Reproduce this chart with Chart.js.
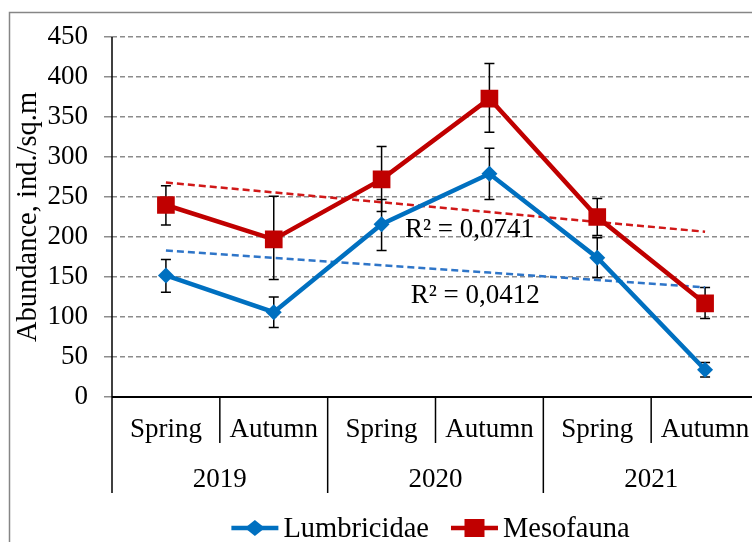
<!DOCTYPE html>
<html>
<head>
<meta charset="utf-8">
<script src="https://cdn.jsdelivr.net/npm/chart.js@4/dist/chart.umd.min.js"></script>
<style>
  html, body { margin: 0; padding: 0; background: #fff; overflow: hidden; }
</style>
</head>
<body>
<canvas id="chartAbundance" width="780" height="542"></canvas>
<script>
// values
const seasons = ["Spring", "Autumn", "Spring", "Autumn", "Spring", "Autumn"];
const years = ["2019", "2020", "2021"];

const lumbricidae     = [152, 106, 216, 279, 174, 34];
const lumbricidaeLow  = [131,  87, 183, 247, 149, 25];
const lumbricidaeHigh = [172, 125, 247, 311, 199, 43];

const mesofauna     = [240, 197, 272, 373, 225, 117];
const mesofaunaLow  = [215, 147, 232, 331, 202,  98];
const mesofaunaHigh = [264, 251, 313, 417, 248, 137];

const r2Lumbricidae = "R² = 0,0412";
const r2Mesofauna = "R² = 0,0741";

const yMin = 0, yMax = 450, yStep = 50;

const BLUE = "#0070C0";
const RED = "#C00000";
const FONT = "Liberation Serif";

/*
    Least squares trend line (the one the spreadsheet drew) for a series
*/
function trendLine(values) {
    const n = values.length;
    let sx = 0, sy = 0, sxy = 0, sxx = 0;
    values.forEach((v, i) => { sx += i; sy += v; sxy += i * v; sxx += i * i; });
    const slope = (n * sxy - sx * sy) / (n * sxx - sx * sx);
    const icpt = (sy - slope * sx) / n;
    return values.map((v, i) => icpt + slope * i);
}

/*
    Diamond / square marker, used for the legend
*/
function drawMarker(ctx, style, color, x, y) {
    ctx.fillStyle = color;
    if (style == "rectRot") {
        ctx.beginPath();
        ctx.moveTo(x - 10, y);
        ctx.lineTo(x, y - 8);
        ctx.lineTo(x + 10, y);
        ctx.lineTo(x, y + 8);
        ctx.closePath();
        ctx.fill();
    } else {
        ctx.fillRect(x - 10, y - 9, 20, 18);
    }
}

const extras = {
    id: "extras",
    beforeDraw(chart) {
        // outer frame
        const ctx = chart.ctx;
        ctx.save();
        ctx.strokeStyle = "#868686";
        ctx.lineWidth = 1.5;
        ctx.strokeRect(9.5, 12.5, chart.width + 40, chart.height + 40);
        ctx.restore();
    },
    beforeDatasetsDraw(chart) {
        // error bars, under the markers
        const ctx = chart.ctx;
        const xs = chart.scales.x, ys = chart.scales.y;
        ctx.save();
        ctx.strokeStyle = "#000";
        ctx.lineWidth = 1.5;
        chart.data.datasets.forEach(ds => {
            if (!ds.errLow) return;
            ds.data.forEach((v, i) => {
                const x = xs.getPixelForValue(i);
                const y1 = ys.getPixelForValue(ds.errLow[i]);
                const y2 = ys.getPixelForValue(ds.errHigh[i]);
                ctx.beginPath();
                ctx.moveTo(x, y1); ctx.lineTo(x, y2);
                ctx.moveTo(x - 5, y1); ctx.lineTo(x + 5, y1);
                ctx.moveTo(x - 5, y2); ctx.lineTo(x + 5, y2);
                ctx.stroke();
            });
        });
        ctx.restore();
    },
    afterDraw(chart) {
        const ctx = chart.ctx;
        const area = chart.chartArea;
        const xs = chart.scales.x, ys = chart.scales.y;
        const w = (area.right - area.left) / seasons.length;
        ctx.save();

        // axis lines and category separators
        ctx.strokeStyle = "#000";
        ctx.lineWidth = 2;
        ctx.beginPath();
        ctx.moveTo(area.left, area.bottom);
        ctx.lineTo(chart.width, area.bottom);
        ctx.stroke();
        ctx.lineWidth = 1.5;
        for (let i = 0; i <= seasons.length; i++) {
            const x = area.left + i * w;
            ctx.beginPath();
            ctx.moveTo(x, i == 0 ? area.top : area.bottom);
            ctx.lineTo(x, area.bottom + (i % 2 == 0 ? 96 : 46));
            ctx.stroke();
        }

        // season and year labels
        ctx.fillStyle = "#000";
        ctx.font = "27px '" + FONT + "'";
        ctx.textAlign = "center";
        ctx.textBaseline = "alphabetic";
        seasons.forEach((s, i) => ctx.fillText(s, xs.getPixelForValue(i), area.bottom + 40));
        years.forEach((yr, i) => ctx.fillText(yr, area.left + (2 * i + 1) * w, area.bottom + 90));

        // R² labels
        ctx.textAlign = "left";
        chart.data.datasets.forEach(ds => {
            if (!ds.r2) return;
            ctx.fillText(ds.r2, xs.getPixelForValue(ds.r2At[0]), ys.getPixelForValue(ds.r2At[1]));
        });

        // legend
        ctx.font = "28.5px '" + FONT + "'";
        const items = chart.data.datasets.filter(ds => ds.errLow);
        const gap = 22, lineLen = 47;
        let total = 0;
        items.forEach((ds, i) => { total += lineLen + 5 + ctx.measureText(ds.label).width + (i ? gap : 0); });
        let x = (area.left + area.right) / 2 - 5 - total / 2;
        const ly = 528;
        items.forEach(ds => {
            ctx.strokeStyle = ds.borderColor;
            ctx.lineWidth = 4.5;
            ctx.beginPath();
            ctx.moveTo(x, ly); ctx.lineTo(x + lineLen, ly);
            ctx.stroke();
            drawMarker(ctx, ds.pointStyle, ds.borderColor, x + lineLen / 2, ly);
            ctx.fillStyle = "#000";
            ctx.fillText(ds.label, x + lineLen + 5, ly + 9);
            x += lineLen + 5 + ctx.measureText(ds.label).width + gap;
        });
        ctx.restore();
    }
};

/*
    Builds the line chart with error bars and trend lines
*/
function setChart() {
    const ctx = document.getElementById("chartAbundance");
    Chart.defaults.font.family = FONT;
    Chart.defaults.color = "#000";

    new Chart(ctx, {
        type: "line",
        data: {
            labels: seasons,
            datasets: [
                {
                    label: "Lumbricidae",
                    data: lumbricidae,
                    errLow: lumbricidaeLow,
                    errHigh: lumbricidaeHigh,
                    borderColor: BLUE,
                    backgroundColor: BLUE,
                    borderWidth: 4.5,
                    pointStyle: "rectRot",
                    pointRadius: 8,
                    pointBorderWidth: 0,
                    tension: 0,
                    order: 1
                },
                {
                    label: "Mesofauna",
                    data: mesofauna,
                    errLow: mesofaunaLow,
                    errHigh: mesofaunaHigh,
                    borderColor: RED,
                    backgroundColor: RED,
                    borderWidth: 4.5,
                    pointStyle: "rect",
                    pointRadius: 12.5,
                    pointBorderWidth: 0,
                    tension: 0,
                    order: 2
                },
                {
                    label: "Trend Lumbricidae",
                    data: trendLine(lumbricidae),
                    r2: r2Lumbricidae,
                    r2At: [2.27, 118],
                    borderColor: "#2E75C8",
                    borderWidth: 2.5,
                    borderDash: [7, 4],
                    pointRadius: 0,
                    order: 3
                },
                {
                    label: "Trend Mesofauna",
                    data: trendLine(mesofauna),
                    r2: r2Mesofauna,
                    r2At: [2.217, 199.5],
                    borderColor: "#D01818",
                    borderWidth: 2.5,
                    borderDash: [7, 4],
                    pointRadius: 0,
                    order: 4
                }
            ]
        },
        options: {
            responsive: false,
            animation: false,
            layout: { padding: { left: 0, right: 21, top: 37, bottom: 145 } },
            plugins: { legend: { display: false }, tooltip: { enabled: false } },
            scales: {
                x: {
                    type: "category",
                    offset: true,
                    ticks: { display: false },
                    grid: { display: false },
                    border: { display: false },
                    afterFit: scale => { scale.height = 0; }
                },
                y: {
                    min: yMin,
                    max: yMax,
                    ticks: { stepSize: yStep, font: { size: 27 }, color: "#000", padding: 16 },
                    grid: { color: "#8c8c8c", lineWidth: 1.5, tickLength: 8, tickColor: "#8c8c8c", tickBorderDash: [] },
                    border: { display: false, dash: [5, 3] },
                    title: {
                        display: true,
                        text: "Abundance, ind./sq.m",
                        font: { size: 28.5 },
                        color: "#000",
                        padding: { top: 11, bottom: 0 }
                    },
                    afterFit: scale => { scale.width = 112; }
                }
            }
        },
        plugins: [extras]
    });
}

setChart();
</script>
</body>
</html>
